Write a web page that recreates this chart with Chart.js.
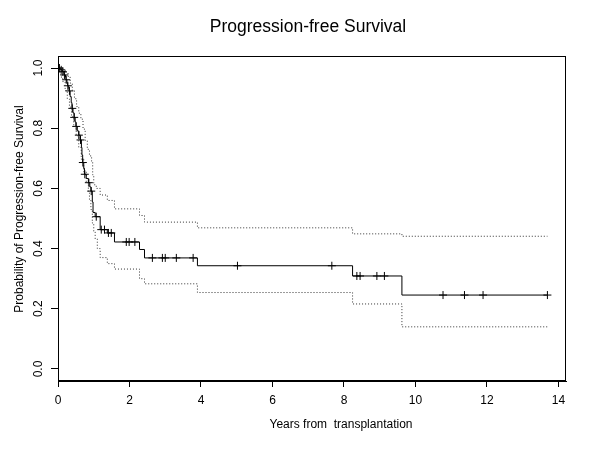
<!DOCTYPE html>
<html>
<head>
<meta charset="utf-8">
<script src="https://cdn.jsdelivr.net/npm/chart.js@4.4.0/dist/chart.umd.min.js"></script>
<style>
  html, body { margin: 0; padding: 0; background: #fff; }
</style>
</head>
<body>
<canvas id="pfs" width="600" height="450"></canvas>
<script>
// Kaplan-Meier estimate (years, probability after the drop)
const eventTimes = [0.05, 0.08, 0.12, 0.16, 0.17, 0.21, 0.22, 0.25, 0.27, 0.30, 0.31, 0.34, 0.37, 0.39,
    0.42, 0.45, 0.48, 0.50, 0.54, 0.58, 0.62, 0.655, 0.67, 0.69, 0.72, 0.74, 0.79, 0.85, 0.89, 0.92,
    0.96, 0.98, 1.04, 1.18, 1.38, 1.58, 2.28, 2.42, 3.90, 8.24, 9.62];
const survival = [0.997, 0.994, 0.988, 0.982, 0.977, 0.969, 0.961, 0.951, 0.941, 0.932, 0.924, 0.905, 0.885, 0.866,
    0.851, 0.836, 0.821, 0.806, 0.791, 0.777, 0.761, 0.736, 0.711, 0.686, 0.667, 0.647, 0.633, 0.619, 0.605, 0.591,
    0.555, 0.52, 0.506, 0.463, 0.452, 0.422, 0.397, 0.369, 0.343, 0.309, 0.2456];
const lastTime = 13.69;

// censored observations (years)
const censorTimes = [0.02, 0.04, 0.09, 0.135, 0.18, 0.23, 0.275, 0.32, 0.40, 0.454, 0.51, 0.583, 0.63, 0.695,
    0.75, 0.863, 0.93, 1.07, 1.21, 1.30, 1.41, 1.49, 1.91, 1.99, 2.15, 2.64, 2.92, 3.0, 3.31, 3.78,
    5.02, 7.66, 8.36, 8.45, 8.92, 9.13, 10.77, 11.37, 11.89, 13.69];

// 95% confidence band
const upperTimes = [0.12, 0.20, 0.28, 0.34, 0.40, 0.46, 0.52, 0.58, 0.64, 0.70, 0.76, 0.82, 0.88, 0.94,
    0.97, 1.00, 1.07, 1.18, 1.38, 1.58, 2.28, 2.42, 3.90, 8.24, 9.62];
const upperValues = [0.995, 0.985, 0.972, 0.950, 0.925, 0.898, 0.872, 0.850, 0.830, 0.797, 0.760, 0.730, 0.708, 0.690,
    0.645, 0.612, 0.600, 0.578, 0.560, 0.532, 0.510, 0.488, 0.469, 0.449, 0.441];
const lowerTimes = [0.03, 0.08, 0.13, 0.20, 0.26, 0.32, 0.38, 0.44, 0.51, 0.58, 0.65, 0.72, 0.79, 0.85,
    0.88, 0.92, 0.96, 1.00, 1.04, 1.10, 1.18, 1.38, 1.58, 2.28, 2.42, 3.90, 8.24, 9.62];
const lowerValues = [0.985, 0.970, 0.955, 0.925, 0.897, 0.870, 0.838, 0.806, 0.775, 0.736, 0.697, 0.655, 0.619, 0.585,
    0.563, 0.530, 0.485, 0.455, 0.432, 0.400, 0.370, 0.350, 0.332, 0.300, 0.283, 0.254, 0.216, 0.140];

const xTicks = [0, 2, 4, 6, 8, 10, 12, 14];
const yTicks = [0, 0.2, 0.4, 0.6, 0.8, 1.0];

const FONT = '"Liberation Sans", Arial, sans-serif';

function stepPoints(times, vals) {
    let pts = [{x: 0, y: 1}];
    times.forEach((t, i) => pts.push({x: t, y: vals[i]}));
    pts.push({x: lastTime, y: vals[vals.length - 1]});
    return pts;
}

function survAt(t) {
    let s = 1;
    for (let i = 0; i < eventTimes.length; i++) {
        if (eventTimes[i] <= t) s = survival[i];
    }
    return s;
}

const frame = {
    id: 'frame',
    afterDraw(chart) {
        const {ctx, chartArea: a} = chart;
        ctx.save();
        ctx.strokeStyle = '#000';
        ctx.lineWidth = 1;
        ctx.strokeRect(a.left + 0.5, a.top + 0.5, a.right - a.left - 1, a.bottom - a.top - 1);

        ctx.fillStyle = '#000';
        ctx.textAlign = 'center';
        ctx.textBaseline = 'middle';
        ctx.font = '17.5px ' + FONT;
        ctx.fillText('Progression-free Survival', 308, 27);
        ctx.font = '12px ' + FONT;
        ctx.fillText('Years from  transplantation', 341, 425);
        ctx.translate(20, 209);
        ctx.rotate(-Math.PI / 2);
        ctx.fillText('Probability of Progression-free Survival', 0, 0);
        ctx.restore();
    }
};

const dotted = {
    borderColor: '#333',
    borderWidth: 1,
    borderDash: [1, 2],
    stepped: true,
    pointRadius: 0,
    fill: false
};

new Chart(document.getElementById('pfs'), {
    type: 'line',
    data: {
        datasets: [
            {
                label: 'PFS',
                data: stepPoints(eventTimes, survival),
                borderColor: '#000',
                borderWidth: 1,
                stepped: true,
                pointRadius: 0
            },
            Object.assign({label: 'upper', data: stepPoints(upperTimes, upperValues)}, dotted),
            Object.assign({label: 'lower', data: stepPoints(lowerTimes, lowerValues)}, dotted),
            {
                label: 'censored',
                data: censorTimes.map(t => ({x: t, y: survAt(t)})),
                showLine: false,
                pointStyle: 'cross',
                pointRadius: 4,
                pointBorderColor: '#000',
                pointBorderWidth: 1
            }
        ]
    },
    options: {
        responsive: false,
        animation: false,
        layout: { padding: { top: 56, right: 34, left: 0, bottom: 0 } },
        plugins: { legend: { display: false }, title: { display: false }, tooltip: { enabled: false } },
        scales: {
            x: {
                type: 'linear',
                min: 0,
                max: 14.21,
                afterBuildTicks: s => { s.ticks = xTicks.map(v => ({value: v})); },
                afterFit: s => { s.height = 69; },
                grid: { drawOnChartArea: false, tickLength: 6, color: '#000' },
                border: { color: '#000' },
                ticks: { color: '#000', font: { size: 12, family: FONT }, padding: 6, maxRotation: 0 }
            },
            y: {
                type: 'linear',
                min: -0.04,
                max: 1.04,
                afterBuildTicks: s => { s.ticks = yTicks.map(v => ({value: v})); },
                afterFit: s => { s.width = 58; },
                grid: { drawOnChartArea: false, tickLength: 7, color: '#000' },
                border: { color: '#000' },
                ticks: {
                    color: '#000', font: { size: 12, family: FONT }, padding: 4,
                    minRotation: 90, maxRotation: 90, crossAlign: 'center',
                    callback: v => v.toFixed(1)
                }
            }
        }
    },
    plugins: [frame]
});
</script>
</body>
</html>
